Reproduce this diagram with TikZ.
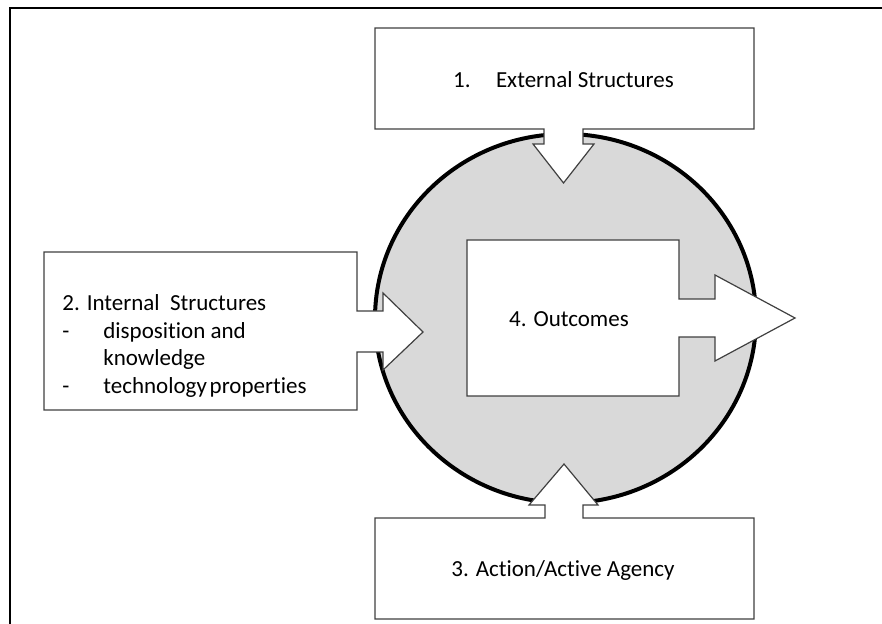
\documentclass[tikz,border=0pt]{standalone}
\usepackage{fontspec}
\setmainfont{Carlito}[Ligatures=NoCommon]
\usepackage{tikz}

\tikzset{
  callout/.style={draw=black!75, fill=white, line width=0.6pt, line join=miter},
  boxtext/.style={font=\fontsize{11.5}{13.7}\selectfont, inner sep=0pt},
}

\begin{document}
\begin{tikzpicture}[x=0.5pt,y=-0.5pt]
\useasboundingbox (0,0) rectangle (882,624);
\draw[line width=1pt] (10,624) -- (10,8) -- (882,8);
\draw[fill=black!15, line width=2pt] (565.5,318.5) ellipse [x radius=190.5, y radius=184.5];
\draw[callout] (375,28) -- (754,28) -- (754,129) -- (583,129) -- (583,144) -- (594,144) -- (563.5,183) -- (533,144) -- (544,144) -- (544,129) -- (375,129) -- cycle;
\draw[callout] (44,252) -- (357,252) -- (357,311) -- (383,311) -- (383,293) -- (423,332) -- (383,370) -- (383,352) -- (357,352) -- (357,410) -- (44,410) -- cycle;
\draw[callout] (375,518) -- (545,518) -- (545,505) -- (529,505) -- (564,464) -- (598,505) -- (583,505) -- (583,518) -- (754,518) -- (754,619) -- (375,619) -- cycle;
\draw[callout] (467,240) -- (679,240) -- (679,299) -- (715,299) -- (715,275) -- (795,318) -- (715,361) -- (715,337) -- (679,337) -- (679,396) -- (467,396) -- cycle;
\node[boxtext] (ext) at (563.5,80) {1.\hspace{12.7pt}External Structures};
\node[boxtext, anchor=west, align=left] (int) at (62,346) {2. Internal~ Structures\\
  \makebox[20.5pt][l]{-}disposition and\\
  \hspace*{20.5pt}knowledge\\
  \makebox[20.5pt][l]{-}technology\hspace{0.12em}properties};
\node[boxtext] (act) at (563,570) {3. Action/Active Agency};
\node[boxtext] (out) at (569,319) {4. Outcomes};
\end{tikzpicture}
\end{document}
